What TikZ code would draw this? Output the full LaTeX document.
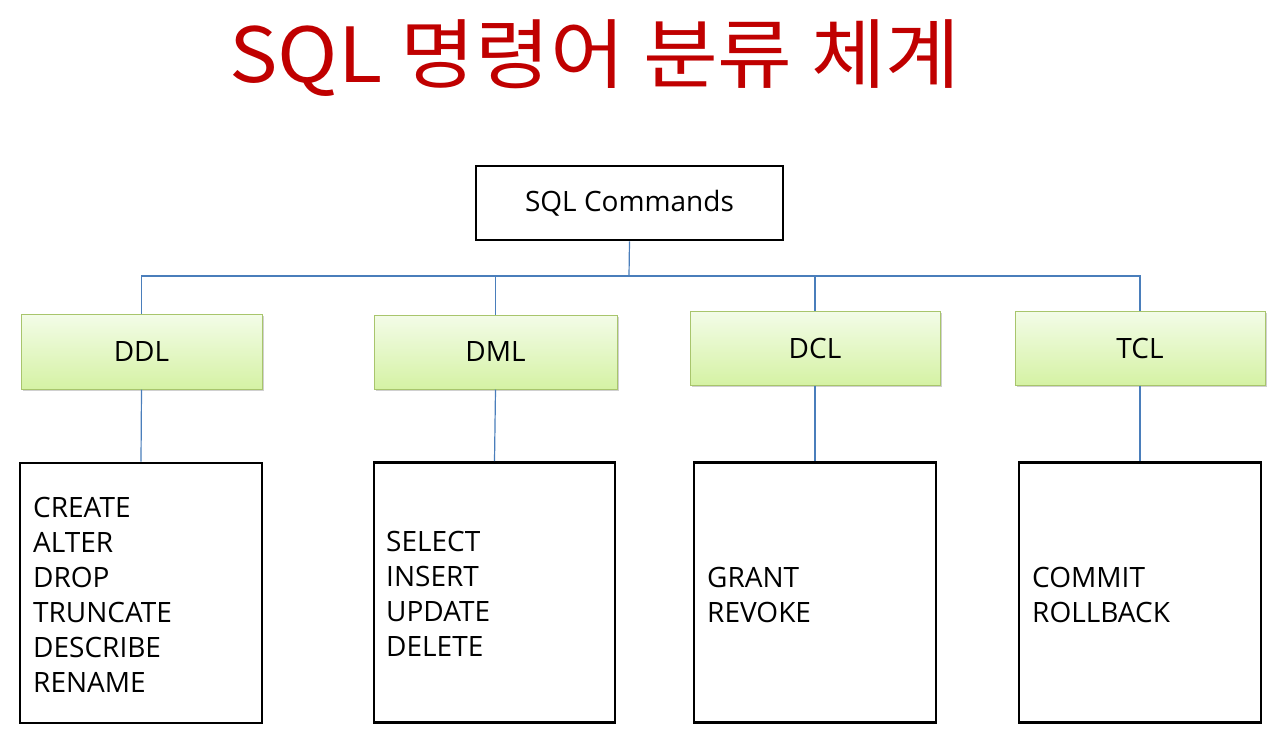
\documentclass[tikz,border=0pt]{standalone}
\usepackage{fontspec}
\setmainfont{Open Sans}
\newfontfamily\krfont{Noto Sans CJK KR}
\usetikzlibrary{shadows}
\definecolor{titlered}{HTML}{C00000}
\definecolor{greentop}{HTML}{F3FCE8}
\definecolor{greenbot}{HTML}{D5F2A4}
\definecolor{greenline}{HTML}{A8C56C}
\definecolor{connblue}{HTML}{4A7EBB}
\tikzset{
  blackbox/.style={draw=black, line width=2.6pt, fill=white, inner sep=0pt},
  greenbox/.style={draw=greenline, line width=1pt, top color=greentop, bottom color=greenbot,
     minimum width=241pt, minimum height=75pt, inner sep=0pt,
     drop shadow={shadow xshift=1.5pt, shadow yshift=-2pt, opacity=0.3, fill=black!60},
     font=\fontsize{28}{34}\selectfont},
  listbox/.style={blackbox, minimum width=242pt, minimum height=260pt},
  listtext/.style={anchor=west, align=left, inner sep=0pt, font=\fontsize{28}{35}\selectfont},
  conn/.style={draw=connblue, line width=1.2pt}
}
\begin{document}
\begin{tikzpicture}[x=1pt,y=-1pt]
\useasboundingbox[fill=white] (0,0) rectangle (1280,742);

\node[font=\krfont\fontsize{76}{86}\selectfont, text=titlered, inner sep=0pt, xscale=1.07] (title) at (595,58) {SQL 명령어 분류 체계};

\node[blackbox, minimum width=307pt, minimum height=74pt, font=\fontsize{28}{34}\selectfont] (sql) at (629.5,203) {SQL Commands};

\node[greenbox] (ddl) at (141.5,351.5) {DDL};
\node[greenbox, minimum width=243pt, minimum height=74pt] (dml) at (495.5,352) {DML};
\node[greenbox, minimum width=250pt, minimum height=74pt] (dcl) at (815,348) {DCL};
\node[greenbox, minimum width=250pt, minimum height=74pt] (tcl) at (1140,348) {TCL};

\node[listbox] (ddllist) at (141,593) {};
\node[listbox, minimum width=241pt] (dmllist) at (494.5,592.5) {};
\node[listbox] (dcllist) at (815,592.5) {};
\node[listbox] (tcllist) at (1140,592.5) {};

\node[listtext] (ddltext) at (33,595) {CREATE\\ALTER\\DROP\\TRUNCATE\\DESCRIBE\\RENAME};
\node[listtext] (dmltext) at (386,594) {SELECT\\INSERT\\UPDATE\\DELETE};
\node[listtext] (dcltext) at (707,594.5) {GRANT\\REVOKE};
\node[listtext] (tcltext) at (1032,594.5) {COMMIT\\ROLLBACK};

\coordinate (bus) at (629,276);
\draw[conn] (sql.south) -- (bus);
\draw[conn] (ddl.north) |- (bus);
\draw[conn] (tcl.north) |- (bus);
\draw[conn] (dml.north) -- (dml.north |- bus);
\draw[conn] (dcl.north) -- (dcl.north |- bus);

\draw[conn] (ddl.south) -- (ddllist.north);
\draw[conn] (dml.south) -- (dmllist.north);
\draw[conn] (dcl.south) -- (dcllist.north);
\draw[conn] (tcl.south) -- (tcllist.north);
\end{tikzpicture}
\end{document}
